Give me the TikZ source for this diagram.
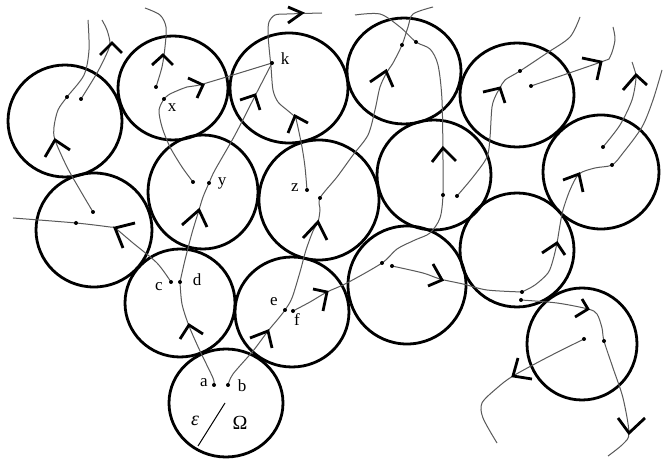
\documentclass[tikz,border=0pt]{standalone}
\usepackage{fontspec}
\setmainfont{Liberation Serif}
\begin{document}
\begin{tikzpicture}[x=1pt,y=-1pt,
  ring/.style={line width=2.8pt},
  curve/.style={black!65,line width=1pt},
  chev/.style={line width=2.8pt,line join=miter},
  dotnode/.style={circle,fill=black,inner sep=0pt,minimum size=4pt},
  lab/.style={font=\fontsize{17}{17}\selectfont,inner sep=0pt},
  biglab/.style={font=\fontsize{20}{20}\selectfont,inner sep=0pt}]
\fill[white] (0,0) rectangle (665,462);
\useasboundingbox (0,0) rectangle (665,462);
% circles
\draw[ring] (65,121) ellipse [x radius=57pt,y radius=56pt];
\draw[ring] (173,88) ellipse [x radius=55pt,y radius=52pt];
\draw[ring] (289,88) ellipse [x radius=59pt,y radius=55pt];
\draw[ring] (404,71) ellipse [x radius=57pt,y radius=53pt];
\draw[ring] (517,95) ellipse [x radius=57pt,y radius=52pt];
\draw[ring] (601,172) ellipse [x radius=58pt,y radius=57pt];
\draw[ring] (203,192) ellipse [x radius=55pt,y radius=57pt];
\draw[ring] (319,200) ellipse [x radius=60pt,y radius=60pt];
\draw[ring] (434,175) ellipse [x radius=57pt,y radius=55pt];
\draw[ring] (94,230) ellipse [x radius=58pt,y radius=57pt];
\draw[ring] (180,303) ellipse [x radius=55pt,y radius=54pt];
\draw[ring] (292,312) ellipse [x radius=57pt,y radius=55pt];
\draw[ring] (226,403) ellipse [x radius=57pt,y radius=54pt];
\draw[ring] (407,285) ellipse [x radius=59pt,y radius=59pt];
\draw[ring] (517,250) ellipse [x radius=57pt,y radius=57pt];
\draw[ring] (582,344) ellipse [x radius=55pt,y radius=56pt];
% curves
\draw[curve] plot[smooth] coordinates {(88,20) (89,50) (84,75) (67,97) (58,110) (54,127) (55,140) (67,167) (80,190) (93,212)};
\draw[curve] plot[smooth] coordinates {(81,99) (97,73) (107,53) (110,43) (107,30) (102,20)};
\draw[curve] plot[smooth] coordinates {(145,8) (160,15) (166,27) (165,47) (162,67) (156,87)};
\draw[curve] plot[smooth] coordinates {(164,99) (170,94) (187,87) (203,84) (272,63)};
\draw[curve] plot[smooth] coordinates {(164,99) (159,110) (162,127) (170,147) (182,167) (193,182)};
\draw[curve] plot[smooth] coordinates {(272,63) (255,96) (235,135) (215,170) (209,183) (203,197) (199,210) (192,233) (185,260) (180,282)};
\draw[curve] plot[smooth] coordinates {(214,385) (213,378) (200,351) (189,326) (182,304) (180,282)};
\draw[curve] plot[smooth] coordinates {(13,218) (76,223) (110,227) (115,228) (133,243) (157,263) (171,282)};
\draw[curve] plot[smooth] coordinates {(307,190) (305,167) (302,147) (297,123) (295,117) (287,110) (278,102) (273,90) (271,67) (269,47) (268,33) (269,22) (275,15) (287,14) (322,13)};
\draw[curve] plot[smooth] coordinates {(228,385) (233,374) (253,351) (268,331) (278,319) (285,310) (292,298) (300,272) (306,250) (313,231) (318,222) (320,210) (320,198) (337,177) (353,155) (368,135) (375,110) (380,87) (387,72) (393,63) (402,45) (408,27) (413,14) (433,7)};
\draw[curve] plot[smooth] coordinates {(293,311) (310,302) (327,292) (347,283) (382,263) (397,249) (415,240) (430,233) (440,218) (443,195) (443,160) (442,100) (438,65) (430,49) (416,42) (400,27) (380,14) (355,15)};
\draw[curve] plot[smooth] coordinates {(457,196) (473,177) (487,157) (490,137) (492,107) (496,95) (500,88) (505,80) (520,71) (547,53) (570,37) (580,17)};
\draw[curve] plot[smooth] coordinates {(531,86) (601,62) (610,57) (615,40) (613,27)};
\draw[curve] plot[smooth] coordinates {(603,147) (620,125) (632,100) (636,78) (634,68) (632,62)};
\draw[curve] plot[smooth] coordinates {(522,292) (535,285) (548,273) (553,260) (557,243) (560,225) (563,210) (570,190) (579,174) (595,168) (612,165) (623,153) (642,127) (653,100) (662,70)};
\draw[curve] plot[smooth] coordinates {(392,266) (423,273) (440,279) (463,284) (487,290) (522,292)};
\draw[curve] plot[smooth] coordinates {(521,300) (557,303) (588,309) (597,314) (602,328) (604,341) (613,368) (623,398) (629,433) (623,444) (608,456)};
\draw[curve] plot[smooth] coordinates {(584,339) (548,357) (513,376) (497,388) (482,403) (483,418) (497,443)};
\draw[black,line width=1pt] (225,403) -- (198,446);
% chevrons
\draw[chev] (45,157) -- (55,140) -- (70,150);
\draw[chev] (100,55) -- (112,43) -- (122,53);
\draw[chev] (152,65) -- (163,55) -- (173,65);
\draw[chev] (188,78) -- (203,85) -- (197,98);
\draw[chev] (240,100) -- (255,95) -- (260,110);
\draw[chev] (182,225) -- (199,210) -- (207,227);
\draw[chev] (180,339) -- (189,325) -- (203,334);
\draw[chev] (135,223) -- (115,228) -- (123,248);
\draw[chev] (288,133) -- (295,116) -- (308,123);
\draw[chev] (288,7) -- (302,13) -- (288,23);
\draw[chev] (250,338) -- (268,331) -- (272,348);
\draw[chev] (303,238) -- (318,222) -- (327,240);
\draw[chev] (370,82) -- (386,71) -- (393,87);
\draw[chev] (313,289) -- (327,292) -- (323,311);
\draw[chev] (432,162) -- (443,148) -- (456,161);
\draw[chev] (483,92) -- (500,88) -- (505,103);
\draw[chev] (582,58) -- (601,62) -- (597,80);
\draw[chev] (623,90) -- (636,75) -- (647,85);
\draw[chev] (542,253) -- (557,243) -- (565,255);
\draw[chev] (563,180) -- (579,174) -- (583,192);
\draw[chev] (433,264) -- (442,280) -- (428,286);
\draw[chev] (582,299) -- (588,309) -- (575,317);
\draw[chev] (618,418) -- (629,433) -- (645,418);
\draw[chev] (518,358) -- (513,376) -- (532,379);
% dots
\foreach \n/\p in {d1/{(67,97)},d2/{(81,99)},d3/{(93,212)},d4/{(76,223)},d5/{(156,87)},x/{(164,99)},d6/{(193,182)},y/{(209,183)},k/{(272,63)},z/{(307,190)},d7/{(320,198)},d8/{(402,45)},d9/{(416,42)},d10/{(443,195)},d11/{(457,196)},d12/{(520,71)},d13/{(531,86)},d14/{(603,147)},d15/{(612,165)},d16/{(382,263)},d17/{(392,266)},d18/{(522,292)},d19/{(521,300)},d20/{(604,341)},d21/{(584,339)},c/{(171,282)},d/{(180,282)},e/{(285,310)},f/{(293,311)},a/{(214,385)},b/{(228,385)}}
  \node[dotnode] (\n) at \p {};
% labels
\node[lab] (lx) at (172,108) {x};
\node[lab] (ly) at (222,183) {y};
\node[lab] (lk) at (285,59) {k};
\node[lab] (lz) at (295,188) {z};
\node[lab] (lc) at (159,287) {c};
\node[lab] (ld) at (197,280) {d};
\node[lab] (le) at (274,302) {e};
\node[lab] (lf) at (297,320) {f};
\node[lab] (la) at (204,383) {a};
\node[lab] (lb) at (242,386) {b};
\node[biglab] (leps) at (195,421) {\itshape ε};
\node[biglab] (lom) at (240,423) {Ω};
\end{tikzpicture}
\end{document}
